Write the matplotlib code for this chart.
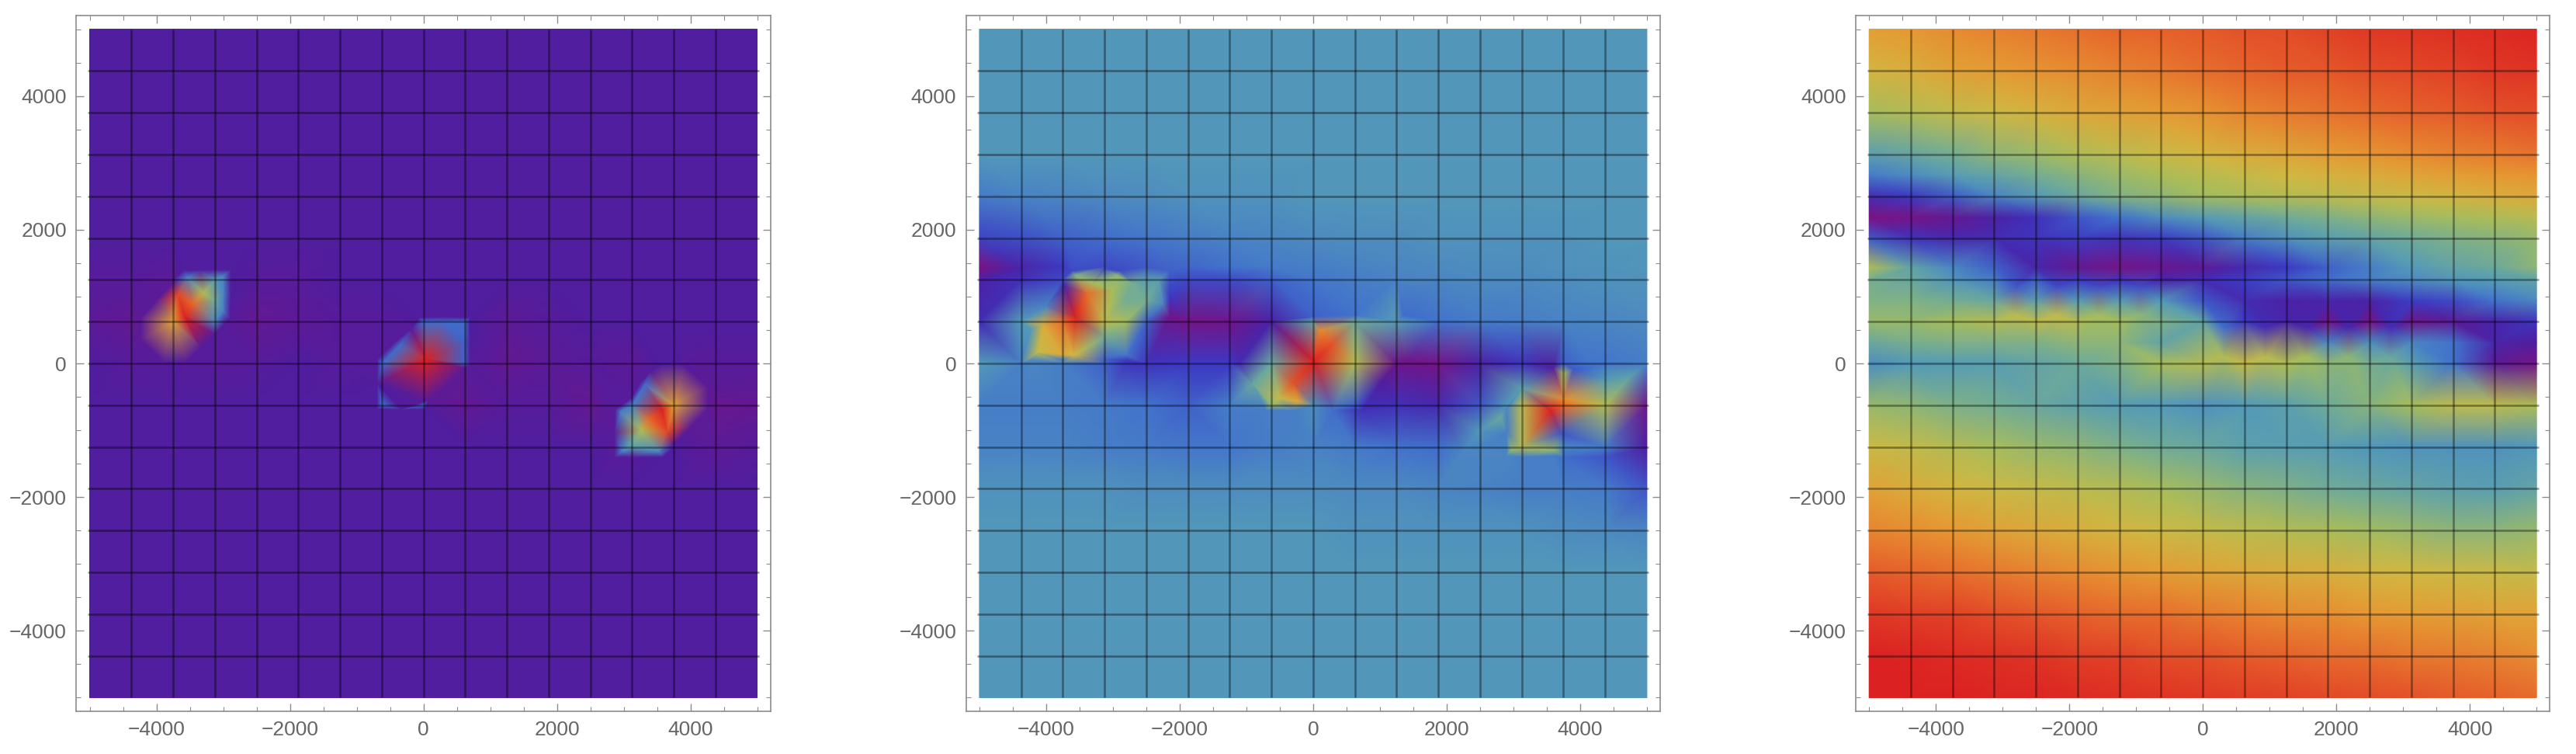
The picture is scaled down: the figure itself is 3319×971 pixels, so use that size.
import numpy as np
import matplotlib
matplotlib.use("Agg")
import matplotlib.pyplot as plt
import matplotlib.tri as mtri
from matplotlib.colors import LinearSegmentedColormap
from matplotlib.ticker import MultipleLocator

plt.rcParams['font.family'] = ['Liberation Sans', 'DejaVu Sans']

# sample columns (every 625)
x_base = [-5000, -4375, -3750, -3125, -2500, -1875, -1250, -625, 0,
          625, 1250, 1875, 2500, 3125, 3750, 4375, 5000]
mesh_lines = x_base[1:-1]
major_ticks = [-4000, -2000, 0, 2000, 4000]
N = None

# ---------- panel 1 ----------
p1_y = [5000, 4375, 3750, 3125, 2500, 1875, 1250, 625, 0, -625, -1250, -1875, -2500, -3125, -3750, -4375, -5000]
p1_rows = [
    [8]*17, [8]*17, [8]*17, [8]*17, [8]*17, [8]*17,
    [7, 7, 6, 36, 7, 7, 8, 8, 8, 8, 8, 8, 8, 8, 8, 8, 8],
    [6, 5, 72, 30, 5, 6, 7, 7, 24, 24, 6, 7, 8, 8, 8, 8, 8],
    [8, 7, 8, 7, 7, 8, 7, 24, N, 22, 5, 6, 7, 6, 8, 7, 7],
    [8, 8, 8, 8, 8, 8, 8, 25, 25, 5, 7, 7, 5, 28, 72, 4, 5],
    [8, 8, 8, 8, 8, 8, 8, 8, 8, 8, 8, 8, 8, 38, 8, 6, 7],
    [8]*17, [8]*17, [8]*17, [8]*17, [8]*17, [8]*17,
]
p1_source_a = [(-3572, 690, 100), (-3540, 1290, 28), (-3000, 1300, 30), (-3000, 780, 28), (-3000, 1040, 30),
               (-3591, 1390, 8), (-3350, 1395, 8), (-3125, 1400, 8), (-2890, 1400, 8), (-2890, 1040, 8),
               (-2900, 680, 7), (-3010, 560, 7), (-3130, 440, 7), (-3340, 230, 7),
               (-3125, 937, 44), (-3290, 1060, 58), (-3450, 900, 85), (-3680, 1030, 92),
               (-3740, 1210, 6), (-3990, 950, 6), (-4230, 683, 6), (-4230, 350, 6), (-4230, 24, 7),
               (-3890, 24, 7), (-3553, 24, 7)]
p1_source_b = [(43, 70, 100), (-54, 690, 8), (320, 690, 8), (693, 690, 8), (693, 330, 8), (693, -27, 7),
               (310, 620, 24), (615, 310, 22),
               (-693, -686, 8), (-330, -690, 8), (23, -686, 8), (-693, -300, 8), (-693, 60, 7),
               (-344, 283, 24), (-402, 341, 7), (-180, 520, 7),
               (623, -66, 6), (350, -330, 6), (60, -560, 6)]
p1_source_c = [(3580, -691, 100), (3553, -24, 8), (3900, -24, 7), (4260, -24, 6), (4260, -350, 6),
               (4260, -683, 6), (4000, -950, 6), (3746, -1206, 6),
               (2875, -691, 7), (2868, -1050, 7), (2868, -1400, 7), (3125, -1400, 7), (3591, -1400, 8),
               (3108, -528, 7), (2953, -722, 28), (2972, -1322, 28), (3533, -1322, 30), (3125, -1148, 42),
               (3262, -993, 58), (3378, -838, 85), (3649, -1032, 92), (3320, -315, 24),
               (3262, -276, 7), (3400, -130, 7)]

# ---------- panel 2 ----------
p2_y = [5000, 4375, 3750, 3125, 2500, 1875, 1437, 1250, 625, 0, -625, -1250, -1875, -2500, -3125, -3750, -4375, -5000]
p2_rows = [
    [34]*17, [34]*17, [34]*17, [34]*17,
    [27, 29, 30, 31, 32, 33, 33, 33, 34, 34, 34, 34, 34, 34, 34, 34, 34],
    [17, 19, 22, 24, 26, 28, 29, 30, 31, 32, 32, 33, 33, 33, 33, 34, 34],
    [1, 10, 15, 18, 21, 23, 25, 27, 28, 29, 30, 31, 32, 32, 33, 33, 34],
    [9, 13, 18, 50, 36, 18, 18, 22, 26, 28, 29, 30, 31, 31, 32, 33, 33],
    [12, 35, 85, 60, 22, 2, 3, 9, 40, 44, 36, 25, 27, 28, 29, 30, 31],
    [35, 29, 28, 22, 14, 15, 15, 42, N, 58, 3, 2, 9, 14, 22, 26, 28],
    [28, 28, 28, 27, 25, 22, 28, 52, 32, 22, 13, 11, 20, 60, 85, 58, 3],
    [29, 29, 29, 28, 27, 26, 26, 28, 29, 27, 25, 24, 30, 58, 30, 28, 8],
    [33, 33, 33, 33, 32, 32, 32, 32, 32, 31, 31, 30, 29, 28, 28, 27, 20],
    [34, 34, 34, 34, 34, 34, 34, 34, 34, 33, 33, 33, 33, 33, 32, 31, 30],
    [34]*17, [34]*17, [34]*17, [34]*17,
]
p2_source_a = [(-3568, 702, 100), (-3607, 1380, 18), (-3125, 1400, 20), (-2900, 1380, 18), (-2155, 1380, 22),
               (-3568, 1322, 48), (-2930, 1322, 50), (-3394, 1051, 85), (-3290, 1200, 55), (-3000, 1100, 55),
               (-3723, 1167, 10), (-4226, 44, 30), (-3750, 60, 28), (-3125, 60, 22), (-4226, 509, 35),
               (-4129, 160, 62), (-3750, 130, 70), (-3587, 121, 65), (-4050, 560, 68), (-4000, 850, 30),
               (-3125, 400, 45), (-2813, 625, 55), (-2500, 937, 45), (-2310, 1245, 38),
               (-2813, 950, 45), (-2700, 1200, 45), (-2794, 44, 14), (-2800, 120, 26),
               (-2155, 1000, 15), (-2250, 900, 30), (-2155, 700, 3)]
p2_source_b = [(12, 31, 100), (-700, -700, 28), (-300, -700, 28), (300, -700, 24), (730, -700, 13),
               (-300, -300, 90), (280, 280, 90), (-500, -520, 62), (-220, -570, 70), (100, 500, 78),
               (0, 700, 22), (625, 720, 25), (1350, 720, 24), (1380, 30, 3), (1000, -300, 8),
               (-900, -300, 42), (-1100, 0, 12)]
p2_source_c = [(3560, -702, 100), (3750, -528, 78), (3600, -63, 8), (3900, -90, 20), (4180, -63, 25),
               (3750, -150, 55), (4375, -250, 36), (4750, -200, 38),
               (2902, -680, 30), (2902, -1050, 28), (2960, -1303, 50), (2902, -1380, 30), (3125, -1400, 28),
               (3620, -1380, 28), (3750, -1400, 24), (4375, -1400, 20), (3620, -1303, 50),
               (3720, -1050, 20), (2850, -680, 33), (2812, -812, 42), (2500, -1000, 34),
               (2250, -1300, 30), (3125, -373, 38)]

# ---------- panel 3 ----------
p3_y = [5000, 4375, 3750, 3125, 2812, 2500, 2187, 1875, 1437, 1250, 937, 625, 312, 0,
        -625, -1250, -1875, -2500, -3125, -3750, -4375, -5000]
p3_rows = [
    [73, 75, 78, 80, 82, 84, 86, 87, 88, 90, 91, 93, 95, 96, 97, 98, 99],
    [66, 68, 72, 74, 76, 78, 80, 82, 84, 86, 88, 89, 91, 92, 93, 95, 96],
    [55, 58, 61, 64, 67, 70, 72, 74, 76, 79, 81, 83, 85, 87, 88, 90, 91],
    [37, 41, 45, 50, 53, 57, 60, 63, 66, 69, 71, 74, 76, 78, 80, 81, 83],
    [27, 31, 36, 40, 45, 49, 53, 56, 59, 62, 65, 67, 69, 71, 73, 75, 76],
    [12, 15, 21, 29, 35, 42, 48, 50, 54, 56, 58, 60, 62, 64, 66, 68, 70],
    [1, 2, 5, 9, 13, 20, 25, 32, 36, 40, 44, 47, 50, 53, 55, 57, 59],
    [20, 14, 11, 12, 14, 16, 14, 16, 20, 28, 33, 37, 40, 44, 47, 49, 52],
    [57, 40, 30, 22, 10, 5, 2, 4, 6, 11, 15, 22, 28, 35, 40, 43, 50],
    [46, 42, 34, 28, 22, 16, 14, 10, 12, 16, 20, 24, 28, 31, 34, 36, 40],
    [48, 48, 45, 42, 38, 36, 36, 35, 20, 12, 9, 10, 9, 16, 18, 25, 30],
    [52, 52, 55, 58, 60, 58, 55, 47, 40, 15, 10, 2, 1, 3, 6, 10, 14],
    [42, 46, 47, 47, 47, 50, 50, 40, N, N, N, 30, 32, 30, 25, 10, 8],
    [32, 35, 36, 37, 40, 43, 47, 55, 58, 62, 57, 50, 46, 37, 25, 6, 2],
    [52, 50, 47, 45, 42, 39, 36, 35, 33, 35, 38, 44, 49, 55, 60, 60, 57],
    [63, 61, 58, 55, 52, 50, 47, 44, 42, 38, 37, 36, 34, 33, 33, 33, 34],
    [72, 69, 66, 64, 62, 60, 58, 55, 52, 49, 47, 44, 42, 40, 38, 37, 40],
    [79, 77, 75, 72, 70, 68, 66, 64, 62, 60, 58, 56, 54, 52, 50, 50, 52],
    [88, 86, 84, 82, 80, 78, 76, 74, 72, 70, 69, 68, 66, 65, 64, 63, 62],
    [95, 94, 93, 91, 89, 87, 85, 84, 82, 80, 78, 77, 75, 74, 73, 72, 72],
    [100, 99, 98, 97, 96, 94, 93, 91, 90, 88, 87, 85, 84, 82, 81, 80, 78],
    [100, 100, 100, 99, 99, 98, 97, 96, 95, 94, 93, 92, 91, 90, 88, 87, 85],
]
p3_ridge_left = [(-2800, 1150, 20), (-2800, 720, 60), (-2187, 1150, 18), (-2187, 720, 62),
                 (-1560, 1150, 18), (-1560, 720, 55), (-937, 1150, 18), (-937, 720, 50)]
p3_ridge_right = [(312, 540, 24), (312, 100, 58), (937, 540, 12), (937, 100, 60),
                  (1562, 540, 10), (1562, 100, 55), (2187, 540, 10), (2187, 100, 50),
                  (2812, 540, 12), (2812, 100, 42)]

panels = [
    (p1_y, p1_rows, [p1_source_a, p1_source_b, p1_source_c]),
    (p2_y, p2_rows, [p2_source_a, p2_source_b, p2_source_c]),
    (p3_y, p3_rows, [p3_ridge_left, p3_ridge_right]),
]

# rainbow colour scale
scale_stops = [0, 8, 15, 25, 35, 45, 55, 65, 75, 87, 100]
scale_colors = ['#80127f', '#4f1ea0', '#3d38c2', '#4273cc', '#549ab8', '#73ad94',
                '#a6bd5c', '#d1b842', '#e69933', '#e6612b', '#db2121']
cmap = LinearSegmentedColormap.from_list(
    'rainbow_field', [(s / 100, c) for s, c in zip(scale_stops, scale_colors)])

W, H = 3319, 971
fig = plt.figure(figsize=(W / 100, H / 100), dpi=100)
frame_left = [98.3, 1244.7, 2391.0]
frame_w, frame_h = 894.4, 895.4
frame_top = 20.3
GRAY = '#8c8c8c'
TXT = '#666666'

for left, (ys, rows, extras) in zip(frame_left, panels):
    ax = fig.add_axes([left / W, 1 - (frame_top + frame_h) / H, frame_w / W, frame_h / H])
    px, py, pv = [], [], []
    for y, row in zip(ys, rows):
        for x, v in zip(x_base, row):
            if v is not None:
                px.append(x); py.append(y); pv.append(v)
    for group in extras:
        for x, y, v in group:
            px.append(x); py.append(y); pv.append(v)
    tri = mtri.Triangulation(np.array(px, float), np.array(py, float))
    ax.tripcolor(tri, np.array(pv, float), shading='gouraud', cmap=cmap, vmin=0, vmax=100)
    for m in mesh_lines:
        ax.plot([m, m], [-5000, 5000], color='black', alpha=0.38, lw=1.9, solid_capstyle='butt')
        ax.plot([-5030, 5030], [m, m], color='black', alpha=0.38, lw=1.9, solid_capstyle='butt')
    ax.set_xlim(-5200, 5200)
    ax.set_ylim(-5200, 5200)
    ax.xaxis.set_major_locator(plt.FixedLocator(major_ticks))
    ax.yaxis.set_major_locator(plt.FixedLocator(major_ticks))
    ax.xaxis.set_minor_locator(MultipleLocator(500))
    ax.yaxis.set_minor_locator(MultipleLocator(500))
    ax.tick_params(which='major', direction='in', length=7.5, width=1.0, color=GRAY,
                   top=True, right=True, labelsize=19, labelcolor=TXT, pad=9)
    ax.tick_params(which='minor', direction='in', length=4.2, width=0.8, color=GRAY,
                   top=True, right=True)
    for s in ax.spines.values():
        s.set_color(GRAY)
        s.set_linewidth(1.2)

fig.savefig('out.png', dpi=100, facecolor='white')
